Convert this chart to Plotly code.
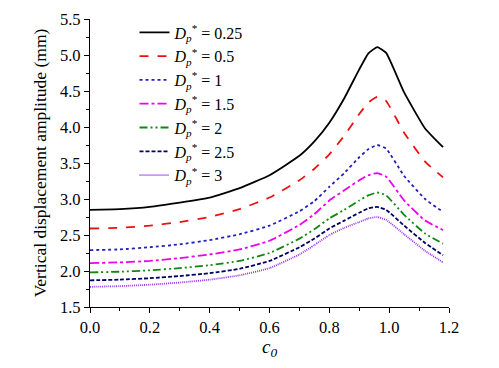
import plotly.graph_objects as go

c0 = [0, 0.1, 0.2, 0.3, 0.4, 0.5, 0.6, 0.7, 0.75, 0.8, 0.85, 0.9, 0.93, 0.96, 0.99, 1.05, 1.12, 1.18]

d_025 = [2.85, 2.86, 2.89, 2.95, 3.02, 3.15, 3.33, 3.60, 3.80, 4.06, 4.40, 4.80, 5.02, 5.11, 5.03, 4.48, 3.98, 3.72]
d_05 = [2.59, 2.60, 2.63, 2.68, 2.75, 2.86, 3.02, 3.26, 3.42, 3.62, 3.88, 4.18, 4.34, 4.42, 4.36, 3.92, 3.52, 3.30]
d_1 = [2.29, 2.30, 2.33, 2.37, 2.43, 2.51, 2.63, 2.83, 2.97, 3.17, 3.36, 3.58, 3.69, 3.75, 3.70, 3.32, 3.00, 2.82]
d_15 = [2.11, 2.12, 2.14, 2.18, 2.23, 2.30, 2.42, 2.64, 2.79, 2.98, 3.12, 3.26, 3.33, 3.36, 3.31, 2.98, 2.70, 2.57]
d_2 = [1.98, 1.99, 2.01, 2.04, 2.08, 2.14, 2.25, 2.45, 2.58, 2.73, 2.85, 2.98, 3.05, 3.09, 3.05, 2.78, 2.52, 2.38]
d_25 = [1.87, 1.88, 1.90, 1.93, 1.97, 2.03, 2.14, 2.33, 2.45, 2.59, 2.70, 2.81, 2.87, 2.89, 2.85, 2.63, 2.39, 2.22]
d_3 = [1.78, 1.79, 1.81, 1.84, 1.88, 1.94, 2.04, 2.23, 2.36, 2.50, 2.60, 2.68, 2.73, 2.75, 2.71, 2.51, 2.28, 2.12]

labels = ["0.25", "0.5", "1", "1.5", "2", "2.5", "3"]
series = [d_025, d_05, d_1, d_15, d_2, d_25, d_3]
colors = ["#000000", "#ee1111", "#2222bb", "#ee00ee", "#118811", "#000066", "#9933ee"]
dashes = ["solid", "dash", "dot", "dashdot", "8px,3px,2px,3px,2px,3px", "4px,2px", "1px,1px"]

x_ticks = [0.0, 0.2, 0.4, 0.6, 0.8, 1.0, 1.2]
y_ticks = [1.5, 2.0, 2.5, 3.0, 3.5, 4.0, 4.5, 5.0, 5.5]

FONT = "Liberation Serif"

fig = go.Figure()
for lab, ys, col, ds in zip(labels, series, colors, dashes):
    fig.add_trace(go.Scatter(
        x=c0, y=ys, mode="lines",
        line=dict(color=col, width=1.8, dash=ds, shape="spline", smoothing=0.4),
        name="<i>D</i><sub><i>p</i></sub><sup>*</sup> = " + lab,
    ))

axis_common = dict(
    showline=True, linecolor="black", linewidth=1.3,
    ticks="outside", ticklen=5, tickwidth=1.2, tickcolor="black",
    showgrid=False, zeroline=False, mirror=False, automargin=False,
    tickfont=dict(family=FONT, size=16.5, color="black"),
)

fig.update_xaxes(
    range=[0, 1.2], tickvals=x_ticks, ticktext=[f"{v:.1f}" for v in x_ticks],
    minor=dict(dtick=0.1, tick0=0, ticklen=3, tickwidth=1.1, tickcolor="black", ticks="outside"),
    title=dict(text="<i>c</i><sub><i>0</i></sub>", font=dict(family=FONT, size=19, color="black"), standoff=2),
    **axis_common,
)
fig.update_yaxes(
    range=[1.5, 5.5], tickvals=y_ticks, ticktext=[f"{v:.1f}" for v in y_ticks],
    minor=dict(dtick=0.25, tick0=1.5, ticklen=3, tickwidth=1.1, tickcolor="black", ticks="outside"),
    title=dict(text="Vertical displacement amplitude (mm)", font=dict(family=FONT, size=17.5, color="black"), standoff=8),
    **axis_common,
)

fig.update_layout(
    width=483, height=352,
    margin=dict(l=82, r=42, t=11, b=53, autoexpand=False),
    paper_bgcolor="white", plot_bgcolor="white",
    font=dict(family=FONT, color="black"),
    showlegend=True,
    legend=dict(
        x=0.124, y=0.979, xanchor="left", yanchor="top", yref="container",
        bgcolor="rgba(0,0,0,0)", borderwidth=0, maxheight=350,
        font=dict(family=FONT, size=16, color="black"),
        tracegroupgap=0, itemwidth=30,
    ),
)

fig.write_html("out.html")
